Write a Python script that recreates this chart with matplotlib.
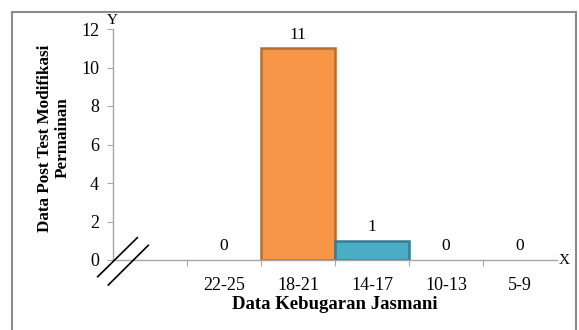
import matplotlib.pyplot as plt
from matplotlib.patches import Rectangle
from matplotlib.lines import Line2D

plt.rcParams['font.family'] = ['Liberation Serif', 'DejaVu Serif']

kategori = ['22-25', '18-21', '14-17', '10-13', '5-9']
jumlah = [0, 11, 1, 0, 0]
warna = ['#4BACC6', '#F79646', '#4BACC6', '#4BACC6', '#4BACC6']
tepi = ['#357D91', '#B66D31', '#357D91', '#357D91', '#357D91']

W, H = 579, 330
fig = plt.figure(figsize=(W / 100, H / 100), dpi=100)

# gray frame around the chart (bottom edge falls outside the image)
fig.add_artist(Rectangle((11.5 / W, 1 - 340 / H), 564 / W, 328.5 / H,
                         transform=fig.transFigure, fill=False,
                         edgecolor='#8C8C8C', linewidth=1.5))

ax = fig.add_axes([113 / W, 1 - 260 / H, 444 / W, 231 / H])
pos = list(range(len(kategori)))
# zero-height bars get no outline
tepi_bar = [t if v > 0 else 'none' for t, v in zip(tepi, jumlah)]
ax.bar(pos, jumlah, width=1.0, color=warna, edgecolor=tepi_bar, linewidth=1.8)

for x, v in zip(pos, jumlah):
    ax.annotate(str(v), (x, v), xytext=(0, 4), textcoords='offset points',
                ha='center', va='bottom', fontsize=12.5)

ax.set_xlim(-1.5, 4.5)
ax.set_ylim(0, 12)
ax.set_yticks(range(0, 13, 2))
ax.set_xticks([-0.5, 0.5, 1.5, 2.5, 3.5])
ax.set_xticklabels([])
ax.set_xticks(pos, minor=True)
ax.set_xticklabels(kategori, minor=True)
ax.tick_params(axis='x', which='minor', length=0, pad=12, labelsize=13)
ax.tick_params(axis='x', which='major', length=4, color='#A6A6A6')
ax.tick_params(axis='y', length=4, color='#A6A6A6', labelsize=13, pad=6)

for s in ['top', 'right']:
    ax.spines[s].set_visible(False)
for s in ['left', 'bottom']:
    ax.spines[s].set_color('#A6A6A6')
    ax.spines[s].set_linewidth(1.0)

ax.set_xlabel('Data Kebugaran Jasmani', fontsize=13.5, fontweight='bold',
              labelpad=2)
fig.text(54 / W, 1 - 138 / H, 'Data Post Test Modifikasi\nPermainan',
         rotation=90, ha='center', va='center', multialignment='center',
         fontsize=12.3, fontweight='bold', linespacing=1.15)

# axis names at the ends of the axes
fig.text(112 / W, 1 - 20 / H, 'Y', ha='center', va='center', fontsize=11)
fig.text(564 / W, 1 - 260 / H, 'X', ha='center', va='center', fontsize=11)

# axis break marks
for (x0, y0, x1, y1) in [(97.7, 276.7, 137.3, 237.7), (108.3, 285, 148.3, 245.3)]:
    fig.add_artist(Line2D([x0 / W, x1 / W], [1 - y0 / H, 1 - y1 / H],
                          transform=fig.transFigure, color='black', linewidth=1.2))

fig.savefig('out.png', dpi=100)
